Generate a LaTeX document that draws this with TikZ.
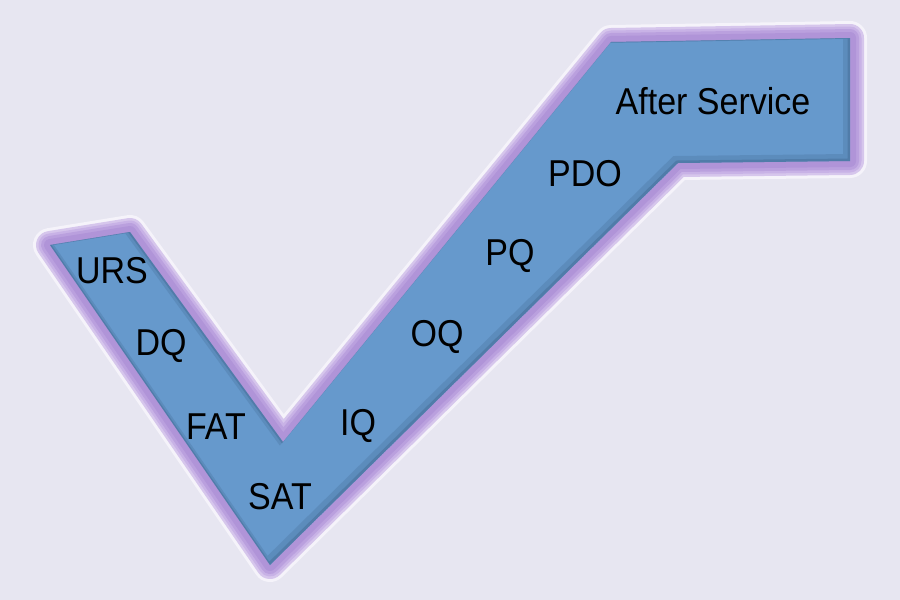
\documentclass[tikz,border=0pt]{standalone}
\usepackage{fontspec}
\setmainfont{Liberation Sans}
\definecolor{bgcol}{RGB}{231,230,241}
\definecolor{bluefill}{RGB}{102,153,204}
\definecolor{darkblue}{RGB}{60,95,135}
\definecolor{purpleA}{RGB}{214,198,236}
\definecolor{purpleB}{RGB}{200,178,230}
\definecolor{purpleC}{RGB}{186,160,222}
\definecolor{purpleD}{RGB}{176,148,216}
\definecolor{glowcol}{RGB}{245,243,250}
\tikzset{
  lbl/.style={font=\fontsize{34}{40}\selectfont, text=black, inner sep=0pt}
}
\newcommand{\tall}[1]{\scalebox{1}[1.1]{#1}}
\begin{document}
\begin{tikzpicture}[x=1pt,y=-1pt]
\useasboundingbox (0,0) rectangle (900,600);
\fill[bgcol] (0,0) rectangle (900,600);
\def\checkpath{(50,245) -- (130,232) -- (283,442) -- (611,42) -- (850,38) -- (850,161) -- (678,163) -- (270,565) -- cycle}
% glow layers
\draw[glowcol, line width=34, line join=round] \checkpath;
\draw[purpleA, line width=28, line join=round] \checkpath;
\draw[purpleB, line width=23, line join=round] \checkpath;
\draw[purpleC, line width=18, line join=round] \checkpath;
\draw[purpleD, line width=12, line join=round] \checkpath;
\fill[bluefill] \checkpath;
% inner shadow on lower/right edges
\begin{scope}
  \clip \checkpath;
  \draw[darkblue, opacity=0.22, line width=8, shift={(-3,-3)}] \checkpath;
  \draw[darkblue, opacity=0.35, line width=3, shift={(-1,-1)}] \checkpath;
\end{scope}
\node[lbl] (urs) at (112,271) {\tall{URS}};
\node[lbl] (dq) at (161,346) {\tall{DQ}};
\node[lbl] (fat) at (216,427) {\tall{FAT}};
\node[lbl] (sat) at (280,497) {\tall{SAT}};
\node[lbl] (iq) at (358,426) {\tall{IQ}};
\node[lbl] (oq) at (437,337) {\tall{OQ}};
\node[lbl] (pq) at (510,256) {\tall{PQ}};
\node[lbl] (pdo) at (585,174) {\tall{PDO}};
\node[lbl] (after) at (713,101) {\tall{After Service}};
\end{tikzpicture}
\end{document}
